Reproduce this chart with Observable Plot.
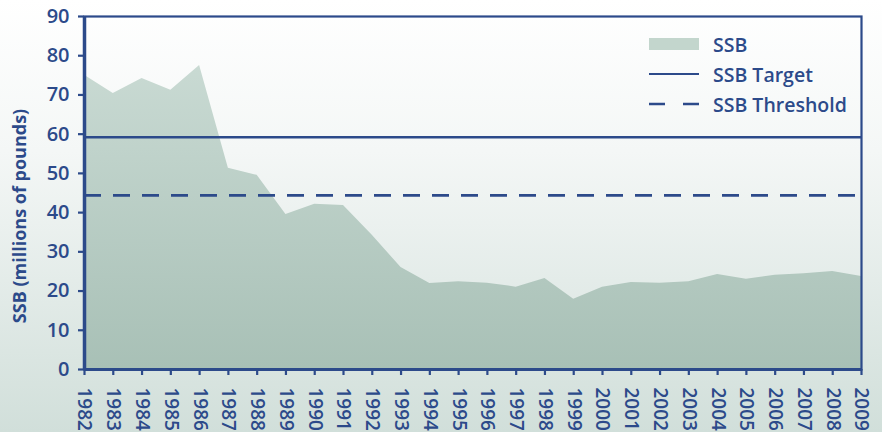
<!DOCTYPE html>
<html><head><meta charset="utf-8">
<script src="https://cdn.jsdelivr.net/npm/d3@7"></script>
<script src="https://cdn.jsdelivr.net/npm/@observablehq/plot@0.6"></script>
<style>
html,body{margin:0;padding:0;}
body{width:882px;height:432px;overflow:hidden;background:linear-gradient(#ffffff 0%, #f4f7f6 35%, #d1dfda 100%);font-family:"Open Sans",sans-serif;}
#wrap{position:relative;width:882px;height:432px;}
#wrap svg{display:block;}
#legend{position:absolute;left:648px;top:29px;color:#2c4a8a;font-size:19.5px;font-weight:600;}
#legend .row{display:flex;align-items:center;height:30px;}
#legend .row svg{margin-right:13px;}
#ylab{position:absolute;left:19px;top:216px;transform:translate(-50%,-50%) rotate(-90deg);white-space:nowrap;color:#2c4a8a;font-size:18px;font-weight:700;}
</style></head><body><div id="wrap"></div>
<script>
const years = [1982,1983,1984,1985,1986,1987,1988,1989,1990,1991,1992,1993,1994,1995,1996,1997,1998,1999,2000,2001,2002,2003,2004,2005,2006,2007,2008,2009];
const ssb = [75.0,70.4,74.2,71.2,77.5,51.3,49.5,39.5,42.1,41.8,34.2,26.0,21.9,22.4,22.0,21.0,23.2,17.9,21.0,22.2,22.0,22.4,24.2,23.0,24.0,24.4,25.0,23.7];
const ssbTarget = 59.2;
const ssbThreshold = 44.4;
const yTicks = [0,10,20,30,40,50,60,70,80,90];
const legendLabels = ["SSB","SSB Target","SSB Threshold"];
const yLabel = "SSB (millions of pounds)";

const blue = "#2c4a8a";
const data = years.map((y,i)=>({year:y, ssb:ssb[i]}));

function gradientDefs() {
  const defs = d3.create("svg:defs");
  const g = defs.append("linearGradient").attr("id","areaGrad").attr("x1",0).attr("y1",0).attr("x2",0).attr("y2",1);
  g.append("stop").attr("offset","0%").attr("stop-color","#c9dad3");
  g.append("stop").attr("offset","100%").attr("stop-color","#a8c0b6");
  return defs.node();
}

const chart = Plot.plot({
  width:882, height:432,
  marginLeft:84, marginRight:21, marginTop:16, marginBottom:63,
  style:{background:"transparent", color:blue, fontFamily:"Open Sans", fontSize:"17px", fontWeight:600, overflow:"visible"},
  x:{domain:[1982,2009]},
  y:{domain:[0,90]},
  marks:[
    gradientDefs,
    Plot.areaY(data,{x:"year", y:"ssb", fill:"url(#areaGrad)"}),
    Plot.ruleY([ssbTarget],{stroke:blue, strokeWidth:2.5}),
    Plot.ruleY([ssbThreshold],{stroke:blue, strokeWidth:2.8, strokeDasharray:"17,12"}),
    Plot.frame({stroke:blue, strokeWidth:2.2}),
    Plot.ruleX([1982],{stroke:blue, strokeWidth:3.5}),
    Plot.ruleY([0],{stroke:blue, strokeWidth:3}),
    Plot.axisY({ticks:yTicks, tickSize:6, tickPadding:9, label:null, strokeWidth:2.2, fontSize:20}),
    Plot.axisX({ticks:years, tickFormat:d=>String(d), tickRotate:90, tickSize:6, tickPadding:12, label:null, strokeWidth:2.2, fontSize:19})
  ]
});
const wrap = document.getElementById("wrap");
wrap.appendChild(chart);

const ylab = document.createElement("div");
ylab.id = "ylab";
ylab.textContent = yLabel;
wrap.appendChild(ylab);

const legend = document.createElement("div");
legend.id = "legend";
const swatches = [
  `<svg width="52" height="14"><rect x="1" y="1" width="50" height="12" fill="#c3d6cd"/></svg>`,
  `<svg width="52" height="14"><line x1="1" x2="51" y1="7" y2="7" stroke="${blue}" stroke-width="2.2"/></svg>`,
  `<svg width="52" height="14"><line x1="1" x2="51" y1="7" y2="7" stroke="${blue}" stroke-width="2.6" stroke-dasharray="16,18"/></svg>`
];
legendLabels.forEach((l,i)=>{
  const row = document.createElement("div");
  row.className = "row";
  row.innerHTML = swatches[i] + `<span>${l}</span>`;
  legend.appendChild(row);
});
wrap.appendChild(legend);
</script>
</body></html>
